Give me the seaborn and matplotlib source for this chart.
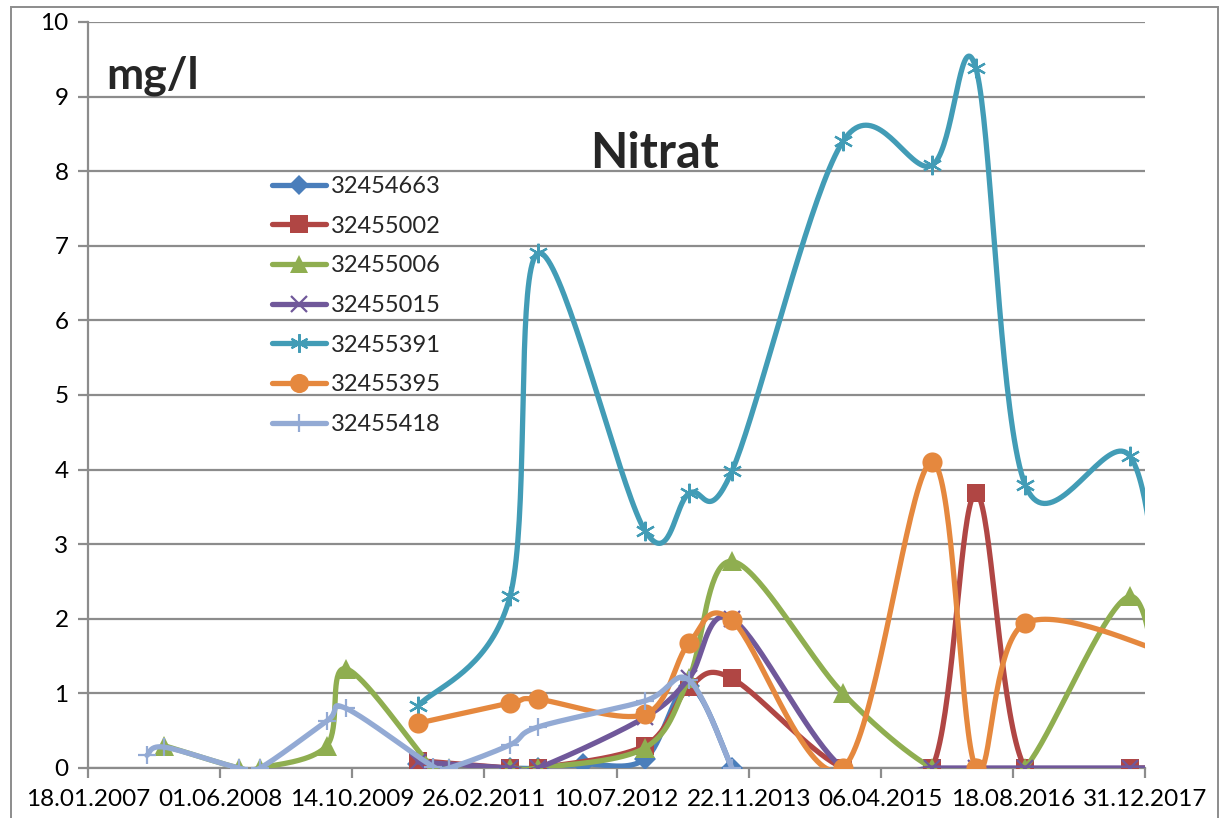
import numpy as np
import pandas as pd
import matplotlib
matplotlib.use("Agg")
import matplotlib.pyplot as plt
import matplotlib.dates as mdates
from matplotlib.lines import Line2D
from matplotlib.patches import Rectangle
import seaborn as sns

# data (dates of the samples, nitrate in mg/l)
dates_a = ["2010-06-20", "2011-06-03", "2011-09-17", "2012-03-05", "2012-10-26",
           "2013-04-10", "2013-09-20"]
vals_32454663 = [0.05, 0.0, 0.0, 0.05, 0.12, 1.1, 0.0]

dates_b = ["2010-06-20", "2011-06-03", "2011-09-17", "2012-10-26", "2013-04-10",
           "2013-09-20", "2014-11-14", "2015-10-17", "2016-03-31", "2016-10-03",
           "2017-11-04", "2018-03-15"]
vals_32455002 = [0.1, 0.0, 0.0, 0.3, 1.08, 1.2, 0.0, 0.0, 3.68, 0.0, 0.0, 0.0]
vals_32455015 = [0.08, 0.0, 0.0, 0.68, 1.2, 2.0, 0.0, 0.0, 0.0, 0.0, 0.0, 0.0]
vals_32455391 = [0.83, 2.3, 6.9, 3.18, 3.68, 3.98, 8.4, 8.08, 9.38, 3.8, 4.18, 1.3]

dates_c = ["2007-11-02", "2008-08-11", "2008-10-30", "2009-07-10", "2009-09-20",
           "2010-08-16", "2010-10-15", "2011-06-03", "2011-09-17", "2012-10-26",
           "2013-04-10", "2013-09-20", "2014-11-14", "2015-10-17", "2016-03-31",
           "2016-10-03", "2017-11-04", "2018-03-15"]
vals_32455006 = [0.3, 0.0, 0.0, 0.3, 1.33, 0.0, 0.0, 0.0, 0.0, 0.27, 1.2, 2.77,
                 1.0, 0.0, 0.0, 0.0, 2.3, 0.2]

dates_d = ["2010-06-20", "2011-06-03", "2011-09-17", "2012-10-26", "2013-04-10",
           "2013-09-20", "2014-11-14", "2015-10-17", "2016-03-31", "2016-10-03",
           "2018-06-01"]
vals_32455395 = [0.6, 0.87, 0.92, 0.72, 1.67, 1.98, 0.0, 4.1, 0.0, 1.94, 1.45]

dates_e = ["2007-08-29", "2007-11-02", "2008-08-11", "2008-10-30", "2009-07-10",
           "2009-09-20", "2010-08-16", "2010-10-15", "2011-06-03", "2011-09-17",
           "2012-10-26", "2013-04-10", "2013-09-20"]
vals_32455418 = [0.17, 0.28, 0.0, 0.0, 0.63, 0.8, 0.02, 0.0, 0.31, 0.55, 0.9,
                 1.18, 0.0]

series = [
    ("32454663", dates_a, vals_32454663, "#4A7EBB", "D", 11),
    ("32455002", dates_b, vals_32455002, "#B04644", "s", 13.5),
    ("32455006", dates_c, vals_32455006, "#8FAE50", "^", 14),
    ("32455015", dates_b, vals_32455015, "#70589A", "x", 12),
    ("32455391", dates_b, vals_32455391, "#429CB6", (6, 2, 0), 14),
    ("32455395", dates_d, vals_32455395, "#E5883E", "o", 14.5),
    ("32455418", dates_e, vals_32455418, "#93AAD4", "+", 13),
]

x_start = pd.Timestamp("2007-01-18")
x_end = pd.Timestamp("2017-12-31")
tick_dates = [x_start + pd.Timedelta(days=500 * k) for k in range(9)]

W, H = 1221, 818
ax_l, ax_r, ax_t, ax_b = 88, 1145, 22, 768
px_day = (ax_r - ax_l) / 4000.0
px_unit = (ax_b - ax_t) / 10.0


def smooth(xd, yd, n=40):
    # excel-like bezier smoothing, done in pixel space
    p = np.column_stack([np.asarray(xd) * px_day, np.asarray(yd) * px_unit])
    if len(p) < 3:
        return xd, yd
    q = np.vstack([p[0], p, p[-1]])
    t = np.linspace(0, 1, n)[:, None]
    out = []
    for i in range(1, len(q) - 2):
        b0 = q[i]
        b3 = q[i + 1]
        b1 = b0 + (q[i + 1] - q[i - 1]) / 6.0
        b2 = b3 - (q[i + 2] - q[i]) / 6.0
        seg = ((1 - t) ** 3) * b0 + 3 * ((1 - t) ** 2) * t * b1 \
            + 3 * (1 - t) * t ** 2 * b2 + t ** 3 * b3
        out.append(seg if i == 1 else seg[1:])
    c = np.vstack(out)
    return c[:, 0] / px_day, c[:, 1] / px_unit


sns.set_theme(style="white")
plt.rcParams['font.family'] = ['Lato', 'DejaVu Sans']

fig = plt.figure(figsize=(W / 100, H / 100), dpi=100)
ax = fig.add_axes([ax_l / W, (H - ax_b) / H, (ax_r - ax_l) / W, (ax_b - ax_t) / H])

x0 = mdates.date2num(x_start)
handles = []
for i, (name, ds, vs, col, mk, ms) in enumerate(series):
    xn = mdates.date2num(pd.to_datetime(ds)) - x0
    sx, sy = smooth(xn, vs)
    curve = pd.DataFrame({"x": sx, "y": sy})
    sns.lineplot(data=curve, x="x", y="y", ax=ax, color=col, lw=3.8,
                 sort=False, estimator=None, zorder=3 + i * 2)
    thin = mk in ("x", "+") or isinstance(mk, tuple)
    ax.plot(xn, vs, ls="none", marker=mk, ms=ms, color=col,
            mew=1.6 if thin else 0, zorder=4 + i * 2, clip_on=True)
    handles.append(Line2D([0], [0], color=col, lw=3.8, marker=mk,
                          ms=ms * 0.95, mew=1.6 if thin else 0))

ax.set_xlim(0, 4000)
ax.set_ylim(0, 10)
ax.set_yticks(range(0, 11))
ax.set_xticks([(mdates.date2num(d) - x0) for d in tick_dates])
ax.set_xticklabels([d.strftime("%d.%m.%Y") for d in tick_dates])
ax.set_xlabel("")
ax.set_ylabel("")

grid_col = "#8C8C8C"
ax.grid(axis="y", color=grid_col, lw=1.6)
ax.grid(axis="x", visible=False)
ax.set_axisbelow(True)
for s in ("top", "right"):
    ax.spines[s].set_visible(False)
for s in ("left", "bottom"):
    ax.spines[s].set_color(grid_col)
    ax.spines[s].set_linewidth(1.6)
ax.tick_params(axis="both", which="major", direction="out", length=7,
               width=1.6, color=grid_col, labelsize=17.5, labelcolor="black")
ax.tick_params(axis="x", pad=8)
ax.tick_params(axis="y", pad=7, left=True)
ax.tick_params(axis="x", bottom=True)

fig.text(106 / W, 1 - 88 / H, "mg/l", fontsize=32, fontweight="bold",
         ha="left", va="baseline")
fig.text(655 / W, 1 - 168 / H, "Nitrat", fontsize=35, fontweight="bold",
         ha="center", va="baseline")

ax.legend(handles, [s[0] for s in series], loc="upper left",
          bbox_to_anchor=(272 / W, 1 - 176 / H), bbox_transform=fig.transFigure,
          frameon=False, fontsize=17, handlelength=2.3, handletextpad=0.2,
          labelspacing=0.79, borderpad=0, borderaxespad=0)

fig.patches.append(Rectangle((11 / W, -0.05), (1218 - 11) / W, 1 - 7 / H + 0.05,
                             transform=fig.transFigure, fill=False,
                             edgecolor=grid_col, lw=1.4))

fig.savefig("out.png", dpi=100)
